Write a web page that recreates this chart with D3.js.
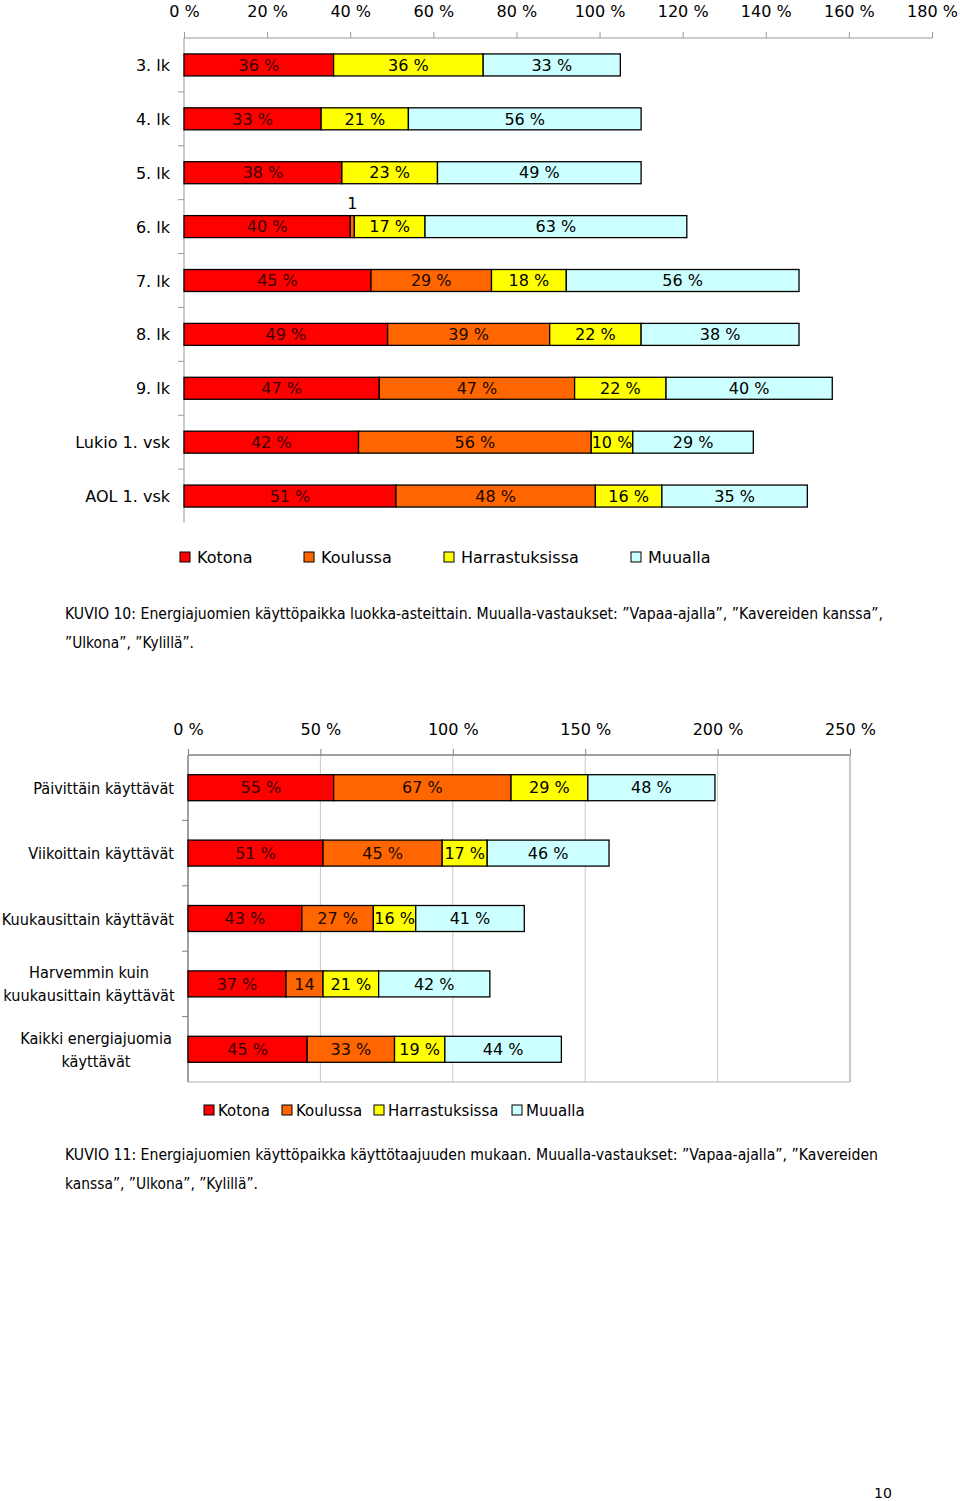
<!DOCTYPE html>
<html>
<head>
<meta charset="utf-8">
<script src="https://cdn.jsdelivr.net/npm/d3@7"></script>
<style>
  body { margin: 0; background: #fff; }
  svg { display: block; }
  text { font-family: "DejaVu Sans", Verdana, sans-serif; fill: #000; }
</style>
</head>
<body>
<svg id="page" width="960" height="1501"></svg>
<script>
// ---------- DATA: chart 1 (KUVIO 10) ----------
const series = ["Kotona", "Koulussa", "Harrastuksissa", "Muualla"];
const colors = ["#ff0000", "#ff6600", "#ffff00", "#ccffff"];

const grades = ["3. lk", "4. lk", "5. lk", "6. lk", "7. lk", "8. lk", "9. lk", "Lukio 1. vsk", "AOL 1. vsk"];
const gradeKotona = [36, 33, 38, 40, 45, 49, 47, 42, 51];
const gradeKoulussa = [0, 0, 0, 1, 29, 39, 47, 56, 48];
const gradeHarrastuksissa = [36, 21, 23, 17, 18, 22, 22, 10, 16];
const gradeMuualla = [33, 56, 49, 63, 56, 38, 40, 29, 35];
const ticks1 = [0, 20, 40, 60, 80, 100, 120, 140, 160, 180];

// ---------- DATA: chart 2 (KUVIO 11) ----------
const freqs = ["Päivittäin käyttävät", "Viikoittain käyttävät", "Kuukausittain käyttävät", "Harvemmin kuin kuukausittain käyttävät", "Kaikki energiajuomia käyttävät"];
const freqLines = [["Päivittäin käyttävät"], ["Viikoittain käyttävät"], ["Kuukausittain käyttävät"], ["Harvemmin kuin", "kuukausittain käyttävät"], ["Kaikki energiajuomia", "käyttävät"]];
const freqKotona = [55, 51, 43, 37, 45];
const freqKoulussa = [67, 45, 27, 14, 33];
const freqHarrastuksissa = [29, 17, 16, 21, 19];
const freqMuualla = [48, 46, 41, 42, 44];
const ticks2 = [0, 50, 100, 150, 200, 250];

const caption1 = ["KUVIO 10: Energiajuomien käyttöpaikka luokka-asteittain. Muualla-vastaukset: ”Vapaa-ajalla”, ”Kavereiden kanssa”,", "”Ulkona”, ”Kylillä”."];
const caption2 = ["KUVIO 11: Energiajuomien käyttöpaikka käyttötaajuuden mukaan. Muualla-vastaukset: ”Vapaa-ajalla”, ”Kavereiden", "kanssa”, ”Ulkona”, ”Kylillä”."];

const svg = d3.select("#page");
const labelColors = ["#3a0000", "#1a0800", "#000", "#000"];

function stackRows(cats, arrays) {
  return cats.map((c, i) => {
    let x0 = 0;
    return arrays.map((arr, s) => {
      const v = arr[i];
      const seg = { cat: c, s, v, x0, x1: x0 + v };
      x0 += v;
      return seg;
    }).filter(d => d.v > 0);
  });
}

function drawBars(g, rows, x, y, barH, fontSize, labelFmt) {
  rows.forEach(row => {
    const cy = y(row[0].cat) + y.bandwidth() / 2;
    const rg = g.append("g");
    rg.selectAll("rect").data(row).join("rect")
      .attr("x", d => x(d.x0)).attr("y", cy - barH / 2)
      .attr("width", d => x(d.x1) - x(d.x0)).attr("height", barH)
      .attr("fill", d => colors[d.s]).attr("stroke", "#000").attr("stroke-width", 1.3);
    rg.selectAll("text").data(row).join("text")
      .attr("x", d => (x(d.x0) + x(d.x1)) / 2)
      .attr("y", d => (x(d.x1) - x(d.x0) < 8) ? cy - barH / 2 - 7 : cy + fontSize * 0.36)
      .attr("text-anchor", "middle")
      .attr("font-size", fontSize)
      .style("fill", d => (x(d.x1) - x(d.x0) < 8) ? "#000" : labelColors[d.s])
      .text(d => labelFmt(d, x(d.x1) - x(d.x0)));
  });
}

// ---------- Chart 1 ----------
{
  const x = d3.scaleLinear().domain([0, 180]).range([184, 932]);
  const y = d3.scaleBand().domain(grades).range([38, 523]);
  const g = svg.append("g");
  const ax = g.append("g").attr("transform", "translate(0,38)")
    .call(d3.axisTop(x).tickValues(ticks1).tickSize(6).tickPadding(15).tickFormat(d => d + " %"));
  ax.select(".domain").attr("stroke", "#999").attr("d", `M${x(0)},0H${x(180)}`);
  ax.selectAll(".tick line").attr("stroke", "#999");
  ax.selectAll("text").attr("font-size", 16).attr("font-family", "DejaVu Sans").style("fill", "#000");
  // left axis
  g.append("line").attr("x1", 184).attr("x2", 184).attr("y1", 38).attr("y2", 523).attr("stroke", "#999");
  g.selectAll(".ctick").data(grades.slice(1)).join("line")
    .attr("x1", 178).attr("x2", 184)
    .attr("y1", d => y(d)).attr("y2", d => y(d)).attr("stroke", "#999");
  g.selectAll(".clab").data(grades).join("text")
    .attr("x", 170).attr("y", d => y(d) + y.bandwidth() / 2 + 6)
    .attr("text-anchor", "end").attr("font-size", 16).text(d => d);
  const rows = stackRows(grades, [gradeKotona, gradeKoulussa, gradeHarrastuksissa, gradeMuualla]);
  drawBars(g, rows, x, y, 22, 16, (d, w) => w < 8 ? String(d.v) : d.v + " %");

  // legend
  const legX = [180, 304, 444, 631];
  const lg = g.append("g");
  series.forEach((s, i) => {
    lg.append("rect").attr("x", legX[i]).attr("y", 552).attr("width", 10).attr("height", 10)
      .attr("fill", colors[i]).attr("stroke", "#000").attr("stroke-width", 1);
    lg.append("text").attr("x", legX[i] + 17).attr("y", 563).attr("font-size", 16).text(s);
  });
  caption1.forEach((t, i) => {
    const el = svg.append("text").attr("x", 65).attr("y", 619 + i * 29).attr("font-size", 15).text(t);
    if (i === 0) el.attr("textLength", 818).attr("lengthAdjust", "spacingAndGlyphs");
    else el.attr("textLength", 129).attr("lengthAdjust", "spacingAndGlyphs");
  });
}

// ---------- Chart 2 ----------
{
  const x = d3.scaleLinear().domain([0, 250]).range([188, 850]);
  const y = d3.scaleBand().domain(freqs).range([755, 1082]);
  const g = svg.append("g");
  // plot area border + gridlines
  g.selectAll(".grid").data(ticks2.slice(1)).join("line")
    .attr("x1", d => x(d)).attr("x2", d => x(d)).attr("y1", 755).attr("y2", 1082)
    .attr("stroke", "#c8c8c8");
  g.append("line").attr("x1", 188).attr("x2", 850).attr("y1", 1082).attr("y2", 1082).attr("stroke", "#b0b0b0");
  g.append("line").attr("x1", 850).attr("x2", 850).attr("y1", 755).attr("y2", 1082).attr("stroke", "#b0b0b0");
  const ax = g.append("g").attr("transform", "translate(0,755)")
    .call(d3.axisTop(x).tickValues(ticks2).tickSize(6).tickPadding(14).tickFormat(d => d + " %"));
  ax.select(".domain").attr("stroke", "#808080").attr("stroke-width", 1.5).attr("d", `M${x(0)},0H${x(250)}`);
  ax.selectAll(".tick line").attr("stroke", "#808080");
  ax.selectAll("text").attr("font-size", 16).attr("font-family", "DejaVu Sans").style("fill", "#000");
  g.append("line").attr("x1", 188).attr("x2", 188).attr("y1", 755).attr("y2", 1082).attr("stroke", "#808080").attr("stroke-width", 1.5);
  g.selectAll(".ctick").data(freqs.slice(1)).join("line")
    .attr("x1", 182).attr("x2", 188)
    .attr("y1", d => y(d)).attr("y2", d => y(d)).attr("stroke", "#808080");
  freqs.forEach((c, i) => {
    const lines = freqLines[i];
    const cy = y(c) + y.bandwidth() / 2;
    lines.forEach((l, j) => {
      const ty = cy + 6 + (j - (lines.length - 1) / 2) * 23;
      const ax0 = lines.length > 1 ? (c.startsWith("Harvemmin") ? 89 : 96) : 174;
      g.append("text")
        .attr("transform", `translate(${ax0},${ty}) scale(0.88,1)`)
        .attr("text-anchor", lines.length > 1 ? "middle" : "end")
        .attr("font-size", 16.5).text(l);
    });
  });
  const rows = stackRows(freqs, [freqKotona, freqKoulussa, freqHarrastuksissa, freqMuualla]);
  drawBars(g, rows, x, y, 26, 16, (d, w) => w < 40 ? String(d.v) : d.v + " %");

  const legX = [204, 282, 374, 512];
  series.forEach((s, i) => {
    g.append("rect").attr("x", legX[i]).attr("y", 1105).attr("width", 10).attr("height", 10)
      .attr("fill", colors[i]).attr("stroke", "#000").attr("stroke-width", 1);
    g.append("text").attr("x", legX[i] + 14).attr("y", 1116).attr("font-size", 15).text(s);
  });
  caption2.forEach((t, i) => {
    const el = svg.append("text").attr("x", 65).attr("y", 1160 + i * 29).attr("font-size", 15).text(t);
    if (i === 0) el.attr("textLength", 813).attr("lengthAdjust", "spacingAndGlyphs");
    else el.attr("textLength", 193).attr("lengthAdjust", "spacingAndGlyphs");
  });
}

svg.append("text").attr("x", 883).attr("y", 1498).attr("text-anchor", "middle").attr("font-size", 14).text("10");
</script>
</body>
</html>
